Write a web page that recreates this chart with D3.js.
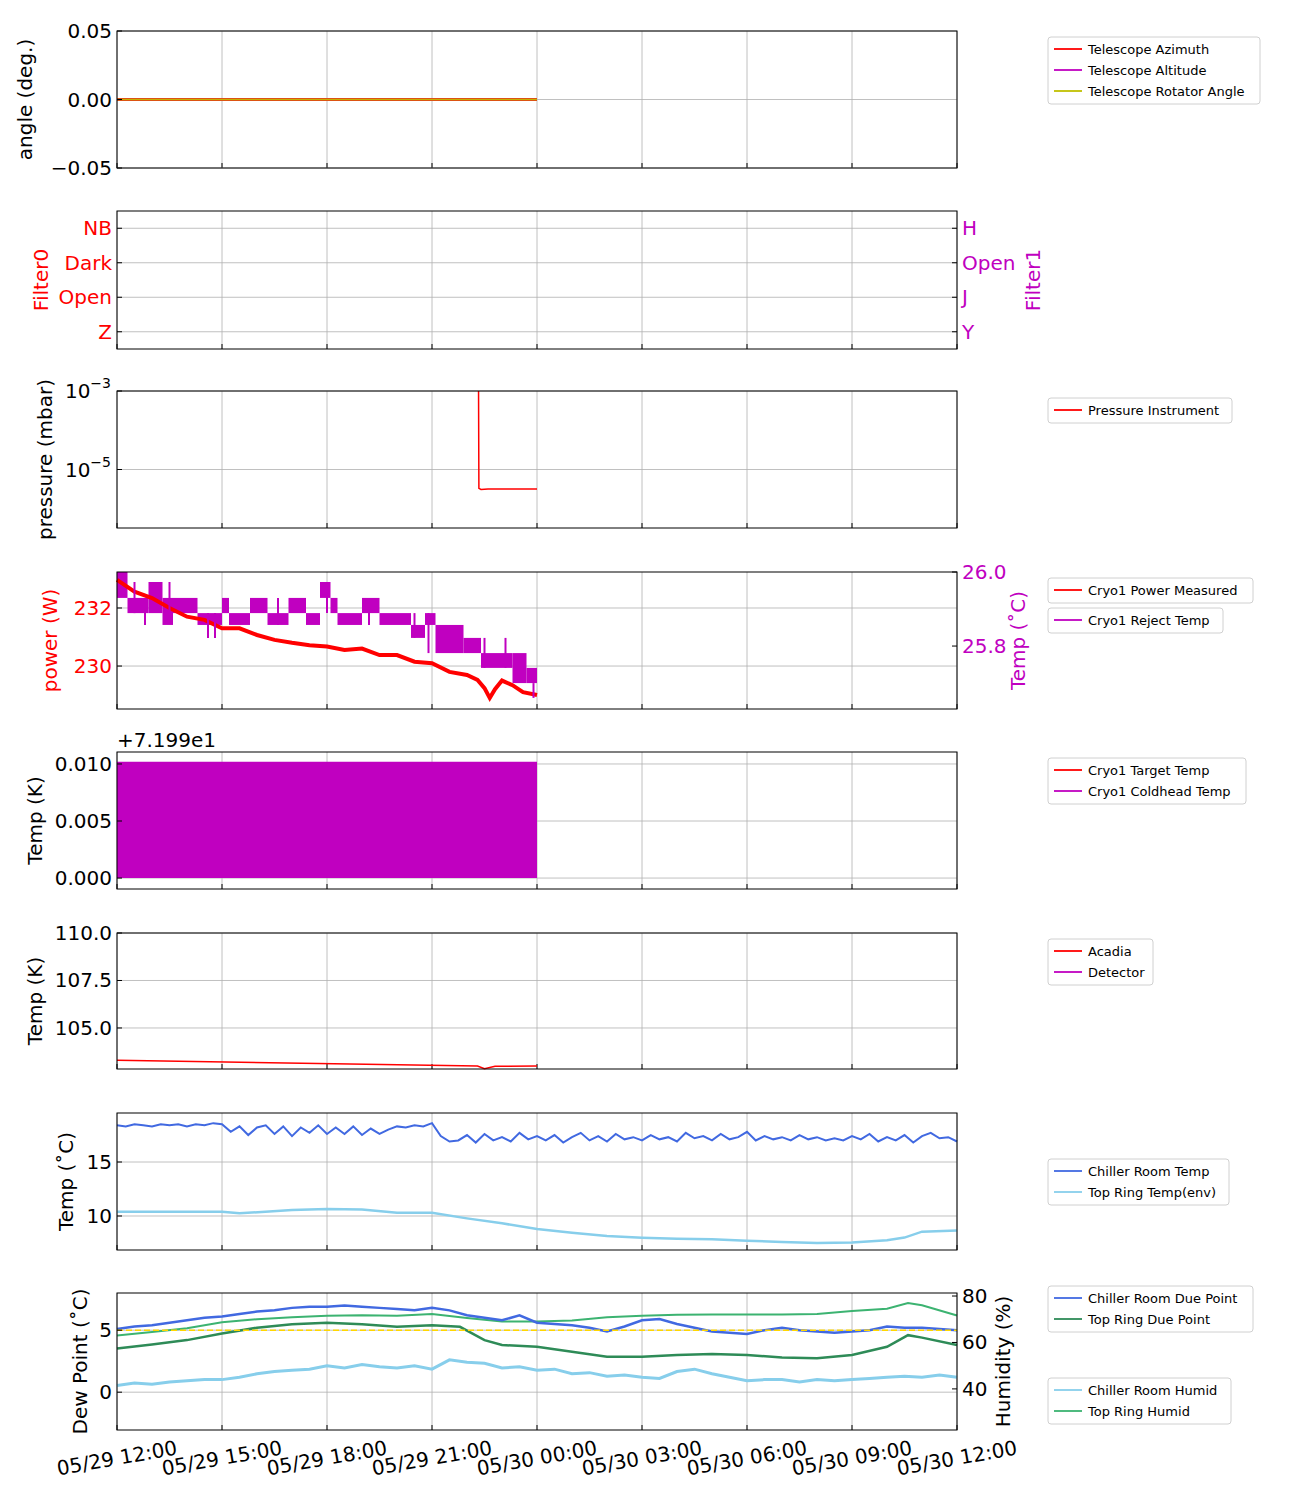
<!DOCTYPE html>
<html><head><meta charset="utf-8">
<script src="https://cdn.jsdelivr.net/npm/d3@7"></script>
<style>body{margin:0;background:#fff} text{font-family:"DejaVu Sans",sans-serif}</style>
</head><body><div id="vis"></div>
<script>
const W = 1300, H = 1500;
const X0 = 117, X1 = 957;

// data
const tickHours = [0,3,6,9,12,15,18,21,24];
const tickLabels = ["05/29 12:00","05/29 15:00","05/29 18:00","05/29 21:00","05/30 00:00","05/30 03:00","05/30 06:00","05/30 09:00","05/30 12:00"];
const angleHours = [0,12], angleVals = [0,0];
const pressHours = [10.33,10.34,10.4,10.6,12], pressVals = [1e-3,3.3e-6,3.1e-6,3.2e-6,3.2e-6];
const powerHours = [0,0.5,1,1.5,2,2.5,3,3.5,4,4.5,5,5.5,6,6.5,7,7.5,8,8.5,9,9.5,10,10.3,10.5,10.65,10.8,11,11.3,11.6,12];
const powerVals = [232.97,232.56,232.34,232.0,231.7,231.59,231.3,231.3,231.07,230.9,230.8,230.72,230.67,230.55,230.6,230.38,230.38,230.15,230.1,229.8,229.69,229.52,229.24,228.9,229.2,229.5,229.34,229.1,229.0];
const rejLevels = [26.0,25.973,25.930,25.889,25.857,25.822,25.781,25.741,25.70,25.66];
// [start h, end h, hi level, lo level]
const rejSegs = [[0,0.3,0,2],[0.3,0.9,2,3],[0.9,1.3,1,3],[1.3,1.6,2,4],[1.6,2.3,2,3],[2.3,3.0,3,4],[3.0,3.2,2,3],[3.2,3.8,3,4],[3.8,4.3,2,3],[4.3,4.9,3,4],[4.9,5.4,2,3],[5.4,5.8,3,4],[5.8,6.1,1,2],[6.1,6.3,2,3],[6.3,7.0,3,4],[7.0,7.5,2,3],[7.5,8.4,3,4],[8.4,8.8,4,5],[8.8,9.1,3,4],[9.1,9.9,4,6],[9.9,10.4,5,6],[10.4,11.3,6,7],[11.3,11.7,6,8],[11.7,12.0,7,8]];
const rejSpikes = [[0.5,1,3],[0.8,2,4],[1.5,1,3],[2.6,3,5],[2.8,3,5],[4.6,2,4],[6.0,1,3],[7.2,2,4],[8.5,3,5],[8.9,3,6],[9.6,4,6],[10.5,5,7],[11.1,5,7],[11.9,8,9]];
const coldHours = [0,12], coldHi = [0.0102,0.0102], coldLo = [0,0];
const acadiaHours = [0,10.3,10.5,10.8,12], acadiaVals = [103.3,103.0,102.86,102.98,103.0];
const q = d3.range(0,24.01,0.25);
const chillTemp = [18.4,18.3,18.5,18.4,18.3,18.5,18.4,18.5,18.3,18.5,18.4,18.6,18.5,
 17.8,18.3,17.5,18.2,18.4,17.6,18.3,17.4,18.2,17.7,18.4,17.6,
 18.2,17.6,18.3,17.5,18.1,17.6,18.0,18.3,18.2,18.4,18.3,18.6,
 17.4,16.9,17.0,17.5,16.8,17.6,17.0,17.3,16.9,17.7,17.1,17.4,
 17.0,17.5,16.8,17.3,17.7,17.0,17.4,16.9,17.6,17.1,17.3,17.0,
 17.5,17.1,17.3,16.9,17.7,17.2,17.4,17.0,17.6,17.1,17.3,17.8,
 17.0,17.4,17.1,17.3,17.0,17.5,17.1,17.3,17.0,17.2,17.0,17.4,
 17.1,17.6,16.9,17.3,17.0,17.5,16.8,17.4,17.7,17.2,17.3,16.9];
const ringTempHours = [0,3,3.5,5,6,7,8,9,10,11,12,13,14,15,16,17,18,19,20,21,22,22.5,23,24];
const ringTempVals = [10.4,10.4,10.25,10.55,10.65,10.6,10.3,10.3,9.78,9.32,8.8,8.45,8.14,7.99,7.9,7.85,7.7,7.6,7.5,7.55,7.75,8.0,8.55,8.65];
const half = d3.range(0,24.01,0.5);
const chillDew = [5.1,5.3,5.4,5.6,5.8,6.0,6.1,6.3,6.5,6.6,6.8,6.9,6.9,7.0,6.9,6.8,6.7,6.6,6.8,6.6,6.2,6.0,5.8,6.2,5.6,5.5,5.4,5.2,4.9,5.3,5.8,5.9,5.5,5.2,4.9,4.8,4.7,5.0,5.2,5.0,4.9,4.8,4.9,5.0,5.3,5.2,5.2,5.1,5.0];
const ringDewHours = [0,1,2,3,4,5,6,7,8,9,9.8,10.5,11,12,13,14,15,16,17,18,19,20,21,22,22.6,23,24];
const ringDewVals = [3.52,3.85,4.2,4.74,5.2,5.47,5.6,5.47,5.27,5.4,5.27,4.2,3.8,3.66,3.26,2.86,2.86,3.0,3.07,3.0,2.8,2.74,3.0,3.66,4.6,4.4,3.8];
const chillHum = [41.5,42.5,42,43,43.5,44,44,45,46.5,47.5,48,48.5,50,49,50.5,49.5,49,50,48.5,52.5,51.5,51,49,49.5,48,48.5,46.5,47,45.5,46,45,44.5,47.5,48.5,46.5,45,43.5,44,44,43,44,43.5,44,44.5,45,45.5,45,46,45];
const ringHumHours = [0,1,2,3,4,5,6,7,8,9,10,11,12,13,14,15,16,17,18,19,20,21,22,22.6,23,24];
const ringHumVals = [63,64.5,66.1,68.7,70,70.9,71.5,71.7,71.5,72.3,70.5,69,69,69.5,70.9,71.5,71.9,72,72,72,72.3,73.5,74.5,77,76,71.6];
const dewRef = 5.0;

const svg = d3.select("#vis").append("svg").attr("width", W).attr("height", H);
const x = d3.scaleLinear().domain([0,24]).range([X0,X1]);

function panel(top, bottom) {
  const g = svg.append("g");
  tickHours.forEach(h => g.append("line").attr("x1",x(h)).attr("x2",x(h)).attr("y1",top).attr("y2",bottom).attr("stroke","#b0b0b0").attr("stroke-width",0.8));
  tickHours.forEach(h => g.append("line").attr("x1",x(h)).attr("x2",x(h)).attr("y1",bottom).attr("y2",bottom-5).attr("stroke","#000"));
  return {g, top, bottom};
}
function frame(p) {
  p.g.append("rect").attr("x",X0).attr("y",p.top).attr("width",X1-X0).attr("height",p.bottom-p.top).attr("fill","none").attr("stroke","#000").attr("stroke-width",1);
}
function yGrid(p, y, ticks) {
  ticks.forEach(t => {
    const yy = y(t);
    p.g.append("line").attr("x1",X0).attr("x2",X1).attr("y1",yy).attr("y2",yy).attr("stroke","#b0b0b0").attr("stroke-width",0.8);
  });
}
function yTicks(p, y, ticks, fmt, color, right) {
  ticks.forEach(t => {
    const yy = y(t);
    const xe = right ? X1 : X0;
    p.g.append("line").attr("x1",xe).attr("x2",right ? xe-5 : xe+5).attr("y1",yy).attr("y2",yy).attr("stroke","#000");
    p.g.append("text").attr("x", right ? xe+5 : xe-5).attr("y",yy).attr("dy","0.35em")
      .attr("text-anchor", right ? "start" : "end").attr("font-size",20).attr("fill",color||"#000").text(fmt(t));
  });
}
function yLabel(p, txt, xpos, color) {
  const cy = (p.top+p.bottom)/2;
  p.g.append("text").attr("transform",`translate(${xpos},${cy}) rotate(-90)`).attr("text-anchor","middle")
    .attr("font-size",20).attr("fill",color||"#000").text(txt);
}
function legend(x0, y0, w, items) {
  const h = items.length*21+4;
  svg.append("rect").attr("x",x0).attr("y",y0).attr("width",w).attr("height",h).attr("rx",3)
    .attr("fill","#fff").attr("stroke","#d0d0d0");
  items.forEach((it,i) => {
    const yy = y0+12+i*21;
    svg.append("line").attr("x1",x0+6).attr("x2",x0+34).attr("y1",yy).attr("y2",yy).attr("stroke",it[1]).attr("stroke-width",1.8);
    svg.append("text").attr("x",x0+40).attr("y",yy).attr("dy","0.35em").attr("font-size",13).text(it[0]);
  });
}
const line = (y) => d3.line().x(d => x(d[0])).y(d => y(d[1]));
function draw(p, y, hs, vs, color, w, dash) {
  p.g.append("path").datum(d3.zip(hs, vs)).attr("d", line(y)).attr("fill","none")
    .attr("stroke",color).attr("stroke-width",w||1.5).attr("stroke-dasharray",dash||null);
}

// Panel 1 angle
let p = panel(31,168);
let y = d3.scaleLinear().domain([-0.05,0.05]).range([168,31]);
yGrid(p,y,[-0.05,0,0.05]);
draw(p,y,angleHours,angleVals,"red",3);
draw(p,y,angleHours,angleVals,"#d0701a",2.6);
draw(p,y,angleHours,angleVals,"#c8b000",1.2);
frame(p);
yTicks(p,y,[-0.05,0,0.05],d => d3.format(".2f")(d).replace("-","\u2212"));
yLabel(p,"angle (deg.)",32);
legend(1048,37,212,[["Telescope Azimuth","red"],["Telescope Altitude","#c000c0"],["Telescope Rotator Angle","#c0c000"]]);

// Panel 2 filters
p = panel(211,349);
y = d3.scaleLinear().domain([-0.5,3.5]).range([349,211]);
yGrid(p,y,[0,1,2,3]);
frame(p);
const f0 = ["Z","Open","Dark","NB"], f1 = ["Y","J","Open","H"];
yTicks(p,y,[0,1,2,3],d => f0[d],"red");
yTicks(p,y,[0,1,2,3],d => f1[d],"#c000c0",true);
yLabel(p,"Filter0",48,"red");
yLabel(p,"Filter1",1040,"#c000c0");

// Panel 3 pressure
p = panel(391,528);
y = d3.scaleLog().domain([10**-6.49,1e-3]).range([528,391]);
yGrid(p,y,[1e-5,1e-3]);
draw(p,y,pressHours,pressVals,"red");
frame(p);
[1e-5,1e-3].forEach(t => {
  const yy = y(t);
  p.g.append("line").attr("x1",X0).attr("x2",X0+5).attr("y1",yy).attr("y2",yy).attr("stroke","#000");
  const tx = p.g.append("text").attr("x",X0-6).attr("y",yy+7).attr("text-anchor","end").attr("font-size",20);
  tx.append("tspan").text("10");
  tx.append("tspan").attr("dy",-10).attr("font-size",14).text("\u2212"+Math.round(-Math.log10(t)));
});
yLabel(p,"pressure (mbar)",52);
legend(1048,398,184,[["Pressure Instrument","red"]]);

// Panel 4 cryo power
p = panel(572,709);
y = d3.scaleLinear().domain([228.52,233.24]).range([709,572]);
const yr = d3.scaleLinear().domain([25.63,26.0]).range([709,572]);
yGrid(p,y,[230,232]);
rejSegs.forEach(s => p.g.append("rect").attr("x",x(s[0])).attr("width",x(s[1])-x(s[0]))
  .attr("y",yr(rejLevels[s[2]])).attr("height",yr(rejLevels[s[3]])-yr(rejLevels[s[2]])).attr("fill","#c000c0"));
draw(p,y,powerHours,powerVals,"red",4);
rejSpikes.forEach(s => p.g.append("line").attr("x1",x(s[0])).attr("x2",x(s[0]))
  .attr("y1",yr(rejLevels[s[1]])).attr("y2",yr(rejLevels[s[2]])).attr("stroke","#c000c0").attr("stroke-width",2));
frame(p);
yTicks(p,y,[230,232],d => d,"red");
yTicks(p,yr,[25.8,26.0],d => d.toFixed(1),"#c000c0",true);
yLabel(p,"power (W)",57,"red");
yLabel(p,"Temp (˚C)",1025,"#c000c0");
legend(1048,578,205,[["Cryo1 Power Measured","red"]]);
legend(1048,608,175,[["Cryo1 Reject Temp","#c000c0"]]);

// Panel 5 coldhead
p = panel(752,889);
y = d3.scaleLinear().domain([-0.00096,0.01105]).range([889,752]);
yGrid(p,y,[0,0.005,0.01]);
p.g.append("path").datum(d3.zip(coldHours,coldLo,coldHi))
  .attr("d", d3.area().x(d => x(d[0])).y0(d => y(d[1])).y1(d => y(d[2]))).attr("fill","#c000c0");
frame(p);
yTicks(p,y,[0,0.005,0.01],d => d.toFixed(3));
yLabel(p,"Temp (K)",42);
p.g.append("text").attr("x",X0).attr("y",747).attr("font-size",20).text("+7.199e1");
legend(1048,758,198,[["Cryo1 Target Temp","red"],["Cryo1 Coldhead Temp","#c000c0"]]);

// Panel 6 acadia
p = panel(933,1069);
y = d3.scaleLinear().domain([102.84,110]).range([1069,933]);
yGrid(p,y,[105,107.5,110]);
draw(p,y,acadiaHours,acadiaVals,"red");
frame(p);
yTicks(p,y,[105,107.5,110],d => d.toFixed(1));
yLabel(p,"Temp (K)",42);
legend(1048,939,105,[["Acadia","red"],["Detector","#c000c0"]]);

// Panel 7 env temp
p = panel(1113,1250);
y = d3.scaleLinear().domain([6.85,19.54]).range([1250,1113]);
yGrid(p,y,[10,15]);
draw(p,y,q,chillTemp,"royalblue",2);
draw(p,y,ringTempHours,ringTempVals,"skyblue",2.5);
frame(p);
yTicks(p,y,[10,15],d => d);
yLabel(p,"Temp (˚C)",73);
legend(1048,1159,181,[["Chiller Room Temp","royalblue"],["Top Ring Temp(env)","skyblue"]]);

// Panel 8 dew point / humidity
p = panel(1293,1430);
y = d3.scaleLinear().domain([-3.05,8.0]).range([1430,1293]);
const yh = d3.scaleLinear().domain([22.3,81.3]).range([1430,1293]);
yGrid(p,y,[0,5]);
draw(p,yh,half,chillHum,"skyblue",3);
draw(p,yh,ringHumHours,ringHumVals,"mediumseagreen",2);
draw(p,y,half,chillDew,"royalblue",2.5);
draw(p,y,ringDewHours,ringDewVals,"seagreen",2.5);
draw(p,y,[0,24],[dewRef,dewRef],"gold",1.5,"6,3");
frame(p);
yTicks(p,y,[0,5],d => d);
yTicks(p,yh,[40,60,80],d => d,"#000",true);
yLabel(p,"Dew Point (˚C)",87);
yLabel(p,"Humidity (%)",1010);
legend(1048,1286,205,[["Chiller Room Due Point","royalblue"],["Top Ring Due Point","seagreen"]]);
legend(1048,1378,183,[["Chiller Room Humid","skyblue"],["Top Ring Humid","mediumseagreen"]]);

tickHours.forEach((h,i) => {
  svg.append("text").attr("transform",`translate(${x(h)},${1458}) rotate(-10)`).attr("text-anchor","middle")
    .attr("dy","0.35em").attr("font-size",20).text(tickLabels[i]);
});
</script></body></html>
